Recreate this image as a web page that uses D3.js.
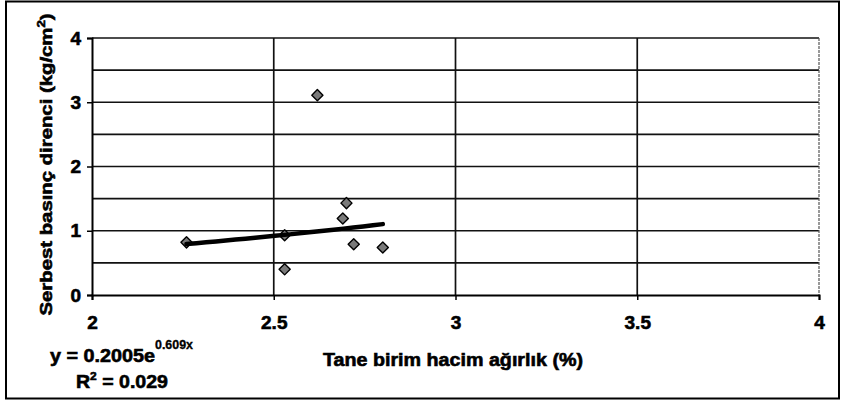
<!DOCTYPE html>
<html>
<head>
<meta charset="utf-8">
<script src="https://cdn.jsdelivr.net/npm/d3@7"></script>
<style>
  body { margin: 0; background: #fff; }
  svg text { font-family: "Liberation Sans", Arial, sans-serif; font-weight: bold; fill: #000; stroke: #000; stroke-width: 0.6px; }
</style>
</head>
<body>
<div id="chart"></div>
<script>
// measured points
var xValues = [2.26, 2.53, 2.53, 2.62, 2.70, 2.69, 2.72, 2.80];
var yValues = [0.82, 0.93, 0.40, 3.11, 1.43, 1.19, 0.79, 0.74];
var xTicks = [2, 2.5, 3, 3.5, 4];
var yTicks = [0, 1, 2, 3, 4];
var yGrid = [0.5, 1, 1.5, 2, 2.5, 3, 3.5, 4];
var xGrid = [2.5, 3, 3.5];
// exponential trendline y = a * e^(b x)
var trendA = 0.2005, trendB = 0.609;

var width = 843, height = 408;
var plot = { left: 92, right: 819, top: 38, bottom: 295 };

var svg = d3.select("#chart").append("svg")
    .attr("width", width)
    .attr("height", height);

// frame around the chart
svg.append("rect")
    .attr("x", 6).attr("y", 1.5)
    .attr("width", 833).attr("height", 397)
    .attr("fill", "none")
    .attr("stroke", "#000")
    .attr("stroke-width", 2);

var x = d3.scaleLinear([2, 4], [plot.left, plot.right]);
var y = d3.scaleLinear([0, 4], [plot.bottom, plot.top]);

// grid
svg.append("g").selectAll("line")
    .data(yGrid)
    .enter().append("line")
        .attr("x1", plot.left).attr("x2", plot.right)
        .attr("y1", function (d) { return y(d); })
        .attr("y2", function (d) { return y(d); })
        .attr("stroke", "#111")
        .attr("stroke-width", 1.7);

svg.append("g").selectAll("line")
    .data(xGrid)
    .enter().append("line")
        .attr("x1", function (d) { return x(d); })
        .attr("x2", function (d) { return x(d); })
        .attr("y1", plot.top).attr("y2", plot.bottom)
        .attr("stroke", "#111")
        .attr("stroke-width", 1.7);

// right edge, thin dotted
svg.append("line")
    .attr("x1", plot.right).attr("x2", plot.right)
    .attr("y1", plot.top).attr("y2", plot.bottom)
    .attr("stroke", "#555")
    .attr("stroke-width", 1.2)
    .attr("stroke-dasharray", "3,1");

// axes
var axisX = d3.axisBottom(x).tickValues(xTicks).tickSize(5).tickFormat(d3.format("~g"));
var axisY = d3.axisLeft(y).tickValues(yTicks).tickSize(5).tickFormat(d3.format("d"));

var gx = svg.append("g")
    .attr("transform", `translate(0,${plot.bottom})`)
    .call(axisX);
gx.select(".domain").attr("stroke", "#000").attr("stroke-width", 2);
gx.selectAll(".tick line").attr("stroke", "#000").attr("stroke-width", 1.5);
gx.selectAll(".tick text")
    .attr("font-size", "19px")
    .attr("font-family", null)
    .attr("y", 21)
    .attr("dy", "0.71em");

var gy = svg.append("g")
    .attr("transform", `translate(${plot.left},0)`)
    .call(axisY);
gy.select(".domain").attr("stroke", "#000").attr("stroke-width", 2);
gy.selectAll(".tick line").attr("stroke", "#000").attr("stroke-width", 1.5);
gy.selectAll(".tick text")
    .attr("font-size", "19px")
    .attr("font-family", null)
    .attr("x", -11);

// trendline
var xMin = d3.min(xValues), xMax = d3.max(xValues);
var trendPts = d3.range(0, 21).map(function (i) {
    var xv = xMin + (xMax - xMin) * i / 20;
    return [xv, trendA * Math.exp(trendB * xv)];
});

// points
var points = xValues.map(function (d, i) { return { x: d, y: yValues[i] }; });
svg.append("g").selectAll("path")
    .data(points)
    .enter().append("path")
        .attr("d", d3.symbol().type(d3.symbolSquare).size(62))
        .attr("transform", function (d) { return `translate(${x(d.x)},${y(d.y)}) rotate(45)`; })
        .attr("fill", "#7a7a7a")
        .attr("stroke", "#000")
        .attr("stroke-width", 1.4)
        .attr("stroke-linejoin", "round");

svg.append("path")
    .datum(trendPts)
    .attr("d", d3.line().x(function (d) { return x(d[0]); }).y(function (d) { return y(d[1]); }))
    .attr("fill", "none")
    .attr("stroke", "#000")
    .attr("stroke-width", 4.5)
    .attr("stroke-linecap", "round");

// axis titles
svg.append("text")
    .attr("transform", `translate(52,${(plot.top + plot.bottom) / 2 - 2}) rotate(-90)`)
    .attr("text-anchor", "middle")
    .attr("font-size", "17px")
    .attr("textLength", 302)
    .attr("lengthAdjust", "spacingAndGlyphs")
    .html("Serbest basınç direnci (kg/cm<tspan dy='-7' font-size='11px'>2</tspan><tspan dy='7'>)</tspan>");

svg.append("text")
    .attr("x", 453)
    .attr("y", 366)
    .attr("text-anchor", "middle")
    .attr("font-size", "18px")
    .attr("textLength", 260)
    .attr("lengthAdjust", "spacingAndGlyphs")
    .text("Tane birim hacim ağırlık (%)");

// equation
svg.append("text")
    .attr("x", 50)
    .attr("y", 362)
    .attr("font-size", "18px")
    .attr("textLength", 105)
    .attr("lengthAdjust", "spacingAndGlyphs")
    .text("y = 0.2005e");
svg.append("text")
    .attr("x", 155)
    .attr("y", 349)
    .attr("font-size", "12px")
    .attr("textLength", 38)
    .attr("lengthAdjust", "spacingAndGlyphs")
    .style("stroke-width", "0.3px")
    .text("0.609x");
svg.append("text")
    .attr("x", 76)
    .attr("y", 388)
    .attr("font-size", "18px")
    .attr("textLength", 92)
    .attr("lengthAdjust", "spacingAndGlyphs")
    .html("R<tspan dy='-8' font-size='11px'>2</tspan><tspan dy='8'> = 0.029</tspan>");
</script>
</body>
</html>
